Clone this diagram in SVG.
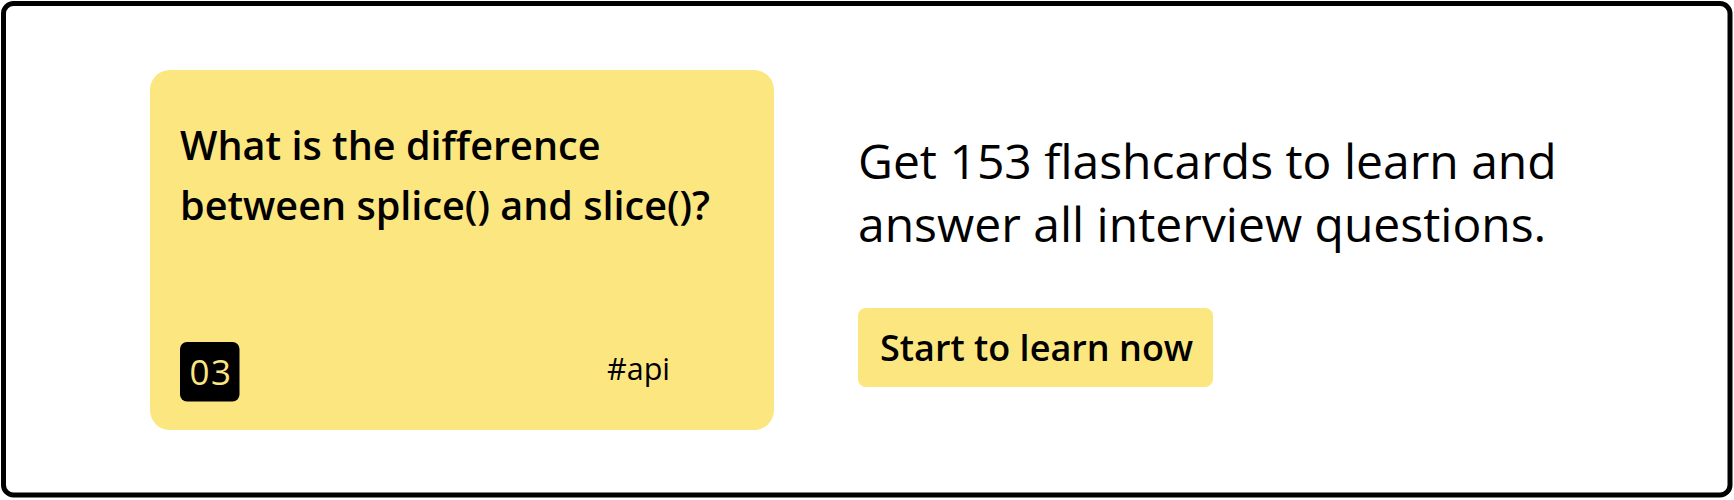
<svg xmlns="http://www.w3.org/2000/svg" width="1734" height="500" viewBox="0 0 1734 500">
  <style>
    .txt { font-family: "Open Sans", "Noto Sans", "Liberation Sans", sans-serif; fill: #000; }
    .semi { font-weight: 600; }
    .yellow { fill: #fce680; }
  </style>
  <rect x="0" y="0" width="1734" height="500" fill="#fff"/>
  <rect id="frame" x="3.5" y="3.5" width="1726.5" height="491.5" rx="10" fill="#fff" stroke="#000" stroke-width="5"/>
  <g id="card">
    <rect class="yellow" x="150" y="70" width="624" height="360" rx="20"/>
    <text class="txt semi" x="180" y="159.5" font-size="39.6">What is the difference</text>
    <text class="txt semi" x="180" y="220" font-size="39.6">between splice() and slice()?</text>
  </g>
  <g id="badge">
    <rect x="180" y="342" width="59.5" height="59.5" rx="7" fill="#000"/>
    <text class="txt yellow" x="211" y="384.5" font-size="35" letter-spacing="1.5" text-anchor="middle">03</text>
  </g>
  <g id="tag">
    <text class="txt" x="607" y="380" font-size="30.5">#api</text>
  </g>
  <g id="headline">
    <text class="txt" x="858" y="178.5" font-size="48">Get 153 flashcards to learn and</text>
    <text class="txt" x="858" y="241.5" font-size="48">answer all interview questions.</text>
  </g>
  <g id="button">
    <rect class="yellow" x="858" y="308" width="355" height="79" rx="8"/>
    <text class="txt semi" x="880" y="361" font-size="36">Start to learn now</text>
  </g>
  <g id="connectors"/>
</svg>
